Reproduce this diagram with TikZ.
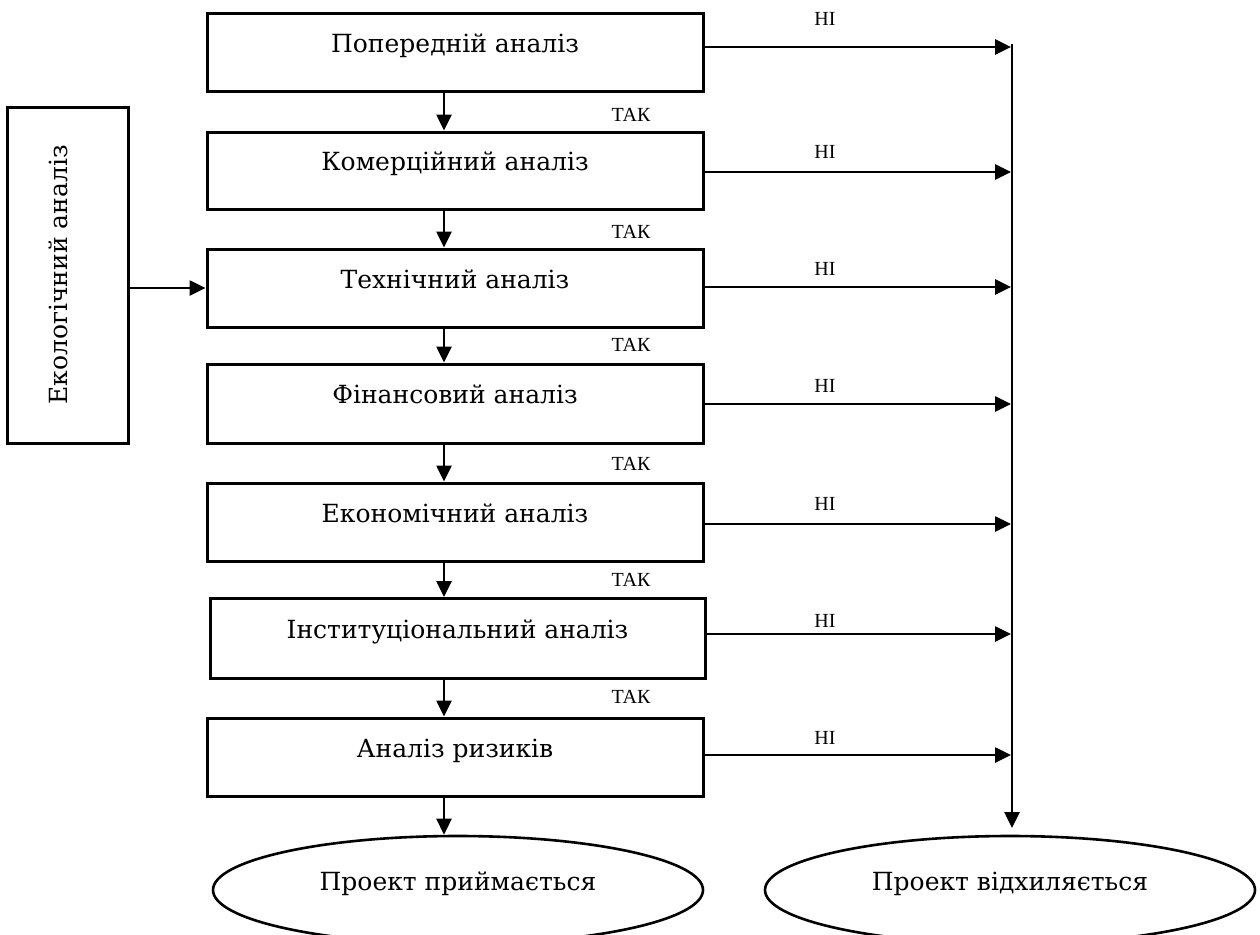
\documentclass[tikz,border=0pt]{standalone}
\usepackage{fontspec}
\setmainfont{DejaVu Serif}
\newfontfamily\labelfont{Liberation Serif}
\usetikzlibrary{arrows.meta,shapes.geometric}

\begin{document}
\begin{tikzpicture}[x=1pt,y=-1pt,
  stage/.style={draw,line width=3pt,minimum width=496pt,minimum height=77pt,
    inner sep=0pt,text height=18pt,text depth=18pt,font=\fontsize{25}{29}\selectfont},
  outcome/.style={ellipse,draw,line width=2.6pt,minimum width=490pt,minimum height=108pt,
    inner sep=0pt,text height=18pt,text depth=18pt,font=\fontsize{25}{29}\selectfont},
  flow/.style={line width=2.6pt,-{Triangle[length=16pt,width=15pt]}},
  yes/.style={font=\labelfont\fontsize{20}{24}\selectfont,anchor=base},
  no/.style={font=\labelfont\fontsize{20}{24}\selectfont,anchor=base}
]
\useasboundingbox (0,0) rectangle (1260,934);

% main chain of analysis stages
\node[stage] (b1) at (455,52.5) {Попередній аналіз};
\node[stage] (b2) at (455,170.5) {Комерційний аналіз};
\node[stage,minimum height=78pt] (b3) at (455,288) {Технічний аналіз};
\node[stage,minimum height=79pt] (b4) at (455,403.5) {Фінансовий аналіз};
\node[stage,minimum height=78pt] (b5) at (455,522) {Економічний аналіз};
\node[stage,minimum width=495pt,minimum height=80pt] (b6) at (457.5,638.5) {Інституціональний аналіз};
\node[stage,minimum height=78pt] (b7) at (455,757) {Аналіз ризиків};

% side input
\node[draw,line width=3pt,minimum width=336pt,minimum height=121pt,inner sep=0pt,
  text height=18pt,text depth=18pt,font=\fontsize{25}{29}\selectfont,rotate=90]
  (eco) at (67.5,275) {Екологічний аналіз};

% final outcomes
\node[outcome] (acc) at (458,890) {Проект приймається};
\node[outcome] (rej) at (1010,890) {Проект відхиляється};

% guide coordinates
\coordinate (spine) at (444,0);
\coordinate (rtop) at (1012,44);
\coordinate (rbot) at (1012,828);
\coordinate (r1) at (1011,47);
\coordinate (r2) at (1011,172);
\coordinate (r3) at (1011,287);
\coordinate (r4) at (1011,404);
\coordinate (r5) at (1011,524);
\coordinate (r6) at (1011,634);
\coordinate (r7) at (1011,755);

% "yes" path downwards
\draw[flow] (b1.south -| spine) -- (b2.north -| spine);
\draw[flow] (b2.south -| spine) -- (b3.north -| spine);
\draw[flow] (b3.south -| spine) -- (b4.north -| spine);
\draw[flow] (b4.south -| spine) -- (b5.north -| spine);
\draw[flow] (b5.south -| spine) -- (b6.north -| spine);
\draw[flow] (b6.south -| spine) -- (b7.north -| spine);
\draw[flow] (b7.south -| spine) -- (acc.north -| spine);

% environmental input
\draw[flow] (eco.south |- b3) -- (b3.west);

% "no" path to the right
\draw[flow] (r1 -| b1.east) -- (r1);
\draw[flow] (r2 -| b2.east) -- (r2);
\draw[flow] (r3 -| b3.east) -- (r3);
\draw[flow] (r4 -| b4.east) -- (r4);
\draw[flow] (r5 -| b5.east) -- (r5);
\draw[flow] (r6 -| b6.east) -- (r6);
\draw[flow] (r7 -| b7.east) -- (r7);
\draw[flow] (rtop) -- (rbot);

% labels
\node[yes] (t1) at (631,121.5) {ТАК};
\node[yes] (t2) at (631,238.5) {ТАК};
\node[yes] (t3) at (631,351.5) {ТАК};
\node[yes] (t4) at (631,470.5) {ТАК};
\node[yes] (t5) at (631,586.5) {ТАК};
\node[yes] (t6) at (631,703.5) {ТАК};

\node[no] (n1) at (825,25.5) {НІ};
\node[no] (n2) at (825,158.5) {НІ};
\node[no] (n3) at (825,275.5) {НІ};
\node[no] (n4) at (825,392.5) {НІ};
\node[no] (n5) at (825,510.5) {НІ};
\node[no] (n6) at (825,627.5) {НІ};
\node[no] (n7) at (825,744.5) {НІ};
\end{tikzpicture}
\end{document}
